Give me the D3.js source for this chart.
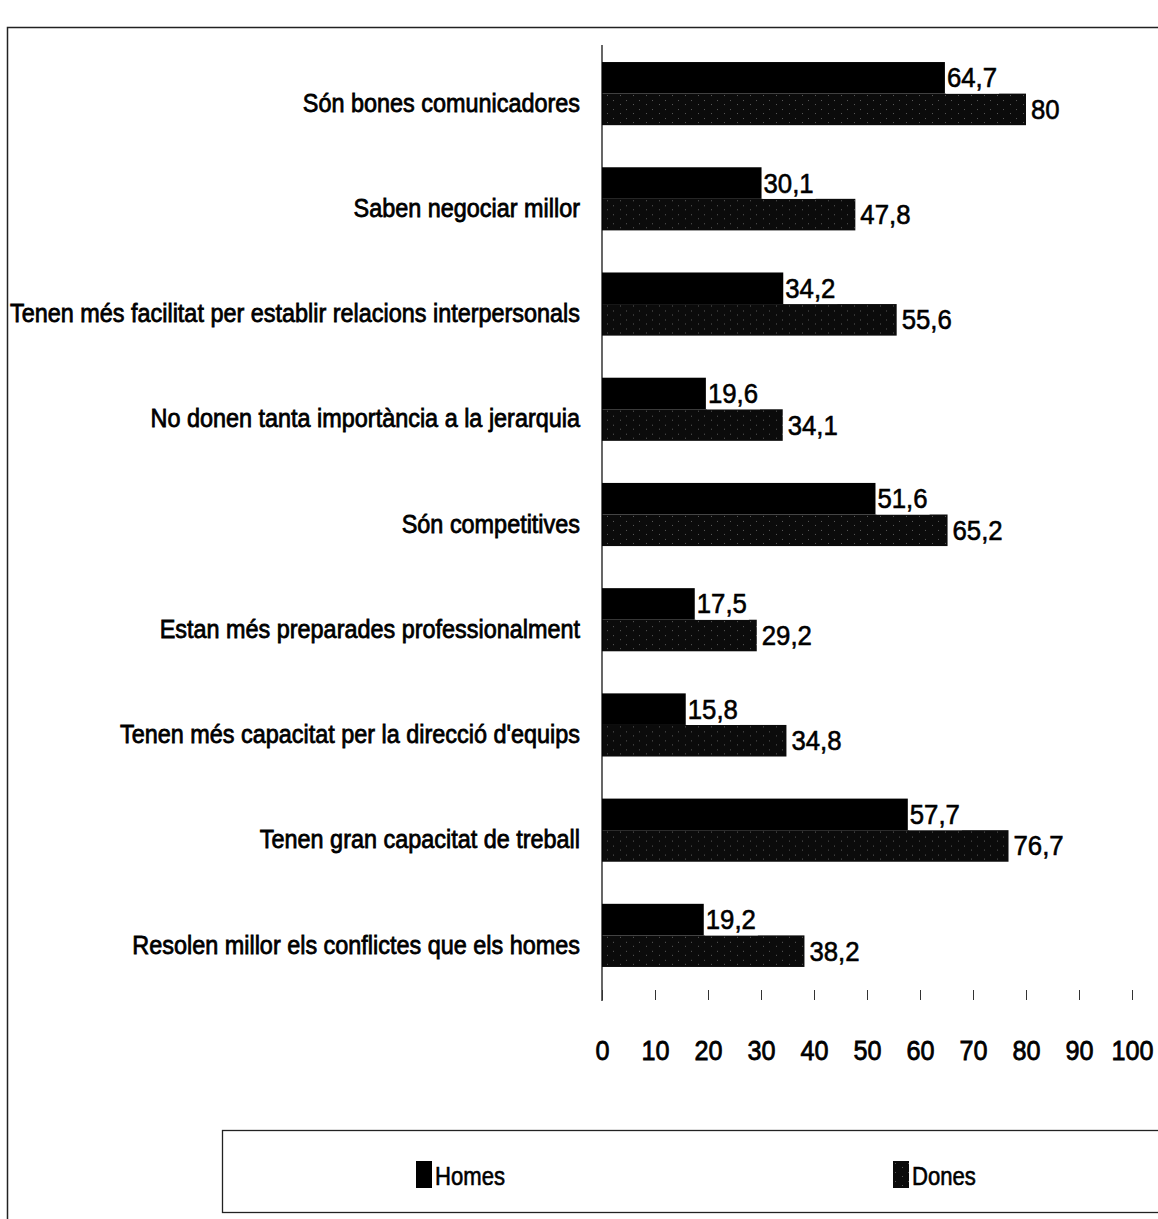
<!DOCTYPE html>
<html>
<head>
<meta charset="utf-8">
<script src="https://cdn.jsdelivr.net/npm/d3@7"></script>
<style>
  html, body { margin: 0; padding: 0; background: #fff; }
  svg { display: block; }
  .cat text { font-family: "Liberation Sans", Arial, sans-serif; font-size: 26px; fill: #000; stroke: #000; stroke-width: 0.8px; }
  .val { font-family: "Liberation Sans", Arial, sans-serif; font-size: 28px; fill: #000; stroke: #000; stroke-width: 0.6px; }
  .xaxis text { font-family: "Liberation Sans", Arial, sans-serif; font-size: 28px; fill: #000; stroke: #000; stroke-width: 0.8px; }
  .legend text { font-family: "Liberation Sans", Arial, sans-serif; font-size: 26px; fill: #000; stroke: #000; stroke-width: 0.6px; }
</style>
</head>
<body>
<svg id="chart" width="1158" height="1219"></svg>
<script>
// Opinions about women as managers, % of respondents by sex
const categories = [
  "Són bones comunicadores",
  "Saben negociar millor",
  "Tenen més facilitat per establir relacions interpersonals",
  "No donen tanta importància a la jerarquia",
  "Són competitives",
  "Estan més preparades professionalment",
  "Tenen més capacitat per la direcció d'equips",
  "Tenen gran capacitat de treball",
  "Resolen millor els conflictes que els homes"
];
const homes = [64.7, 30.1, 34.2, 19.6, 51.6, 17.5, 15.8, 57.7, 19.2];
const dones = [80, 47.8, 55.6, 34.1, 65.2, 29.2, 34.8, 76.7, 38.2];
const seriesNames = ["Homes", "Dones"];
const tickValues = [0, 10, 20, 30, 40, 50, 60, 70, 80, 90, 100];

const fmt = v => String(v).replace(".", ",");

const svg = d3.select("#chart");

// dark speckled fill for the second series
const defs = svg.append("defs");
const pat = defs.append("pattern")
  .attr("id", "grain").attr("patternUnits", "userSpaceOnUse")
  .attr("width", 13).attr("height", 9);
pat.append("rect").attr("width", 13).attr("height", 9).attr("fill", "#0b0b0b");
[[2, 2], [9, 6]].forEach(([px, py]) =>
  pat.append("rect").attr("x", px).attr("y", py).attr("width", 1).attr("height", 1).attr("fill", "#5a5a5a"));

const fills = { Homes: "#000", Dones: "url(#grain)" };

// outer frame
svg.append("rect")
  .attr("x", 7.5).attr("y", 27.5).attr("width", 1200).attr("height", 1250)
  .attr("fill", "none").attr("stroke", "#222").attr("stroke-width", 1.5);

const x = d3.scaleLinear().domain([0, 100]).range([602, 1132]);
const y = d3.scaleBand().domain(categories).range([41, 988])
  .paddingInner(0.4).paddingOuter(0.2);
const ySub = d3.scaleBand().domain(seriesNames).range([0, y.bandwidth()]);

const rows = categories.map((c, i) => ({ cat: c, Homes: homes[i], Dones: dones[i] }));

// bars
const g = svg.append("g");
const groups = g.selectAll("g.row").data(rows).join("g")
  .attr("class", "row")
  .attr("transform", d => `translate(0,${y(d.cat)})`);

groups.selectAll("rect.bar")
  .data(d => seriesNames.map(s => ({ s, v: d[s] })))
  .join("rect")
  .attr("class", "bar")
  .attr("x", x(0))
  .attr("y", d => ySub(d.s))
  .attr("width", d => x(d.v) - x(0))
  .attr("height", ySub.bandwidth())
  .attr("fill", d => fills[d.s]);

// value labels
groups.each(function (d) {
  const row = d3.select(this);
  seriesNames.forEach(s => {
    const t = row.append("text")
      .attr("class", "val")
      .attr("x", x(d[s]) + (s === "Homes" ? 2 : 5))
      .attr("y", ySub(s) + ySub.bandwidth() / 2)
      .attr("dy", "0.34em")
      .text(fmt(d[s]));
    const w = t.node().getComputedTextLength();
    t.attr("textLength", w * 0.92).attr("lengthAdjust", "spacingAndGlyphs");
    if (s === "Homes") {
      const bb = t.node().getBBox();
      row.insert("rect", "text")
        .attr("x", bb.x - 1).attr("y", ySub(s))
        .attr("width", bb.width + 3).attr("height", ySub.bandwidth())
        .attr("fill", "#fff");
    }
  });
});

// category axis
const yAxis = svg.append("g").attr("class", "cat")
  .attr("transform", `translate(${x(0)},0)`)
  .call(d3.axisLeft(y).tickSize(0).tickPadding(22));
yAxis.select(".domain").remove();
yAxis.selectAll("text").attr("dy", "0.7em");
// condense the labels horizontally
const widths = yAxis.selectAll("text").nodes().map(n => n.getComputedTextLength());
const k = 570 / d3.max(widths);
yAxis.selectAll("text").each(function (d, i) {
  d3.select(this).attr("textLength", widths[i] * k).attr("lengthAdjust", "spacingAndGlyphs");
});

svg.append("line")
  .attr("x1", x(0)).attr("x2", x(0)).attr("y1", 45).attr("y2", 1001)
  .attr("stroke", "#000").attr("stroke-width", 1.2);

// value axis
const xAxis = svg.append("g").attr("class", "xaxis")
  .attr("transform", "translate(0,1000)")
  .call(d3.axisBottom(x).tickValues(tickValues).tickFormat(d3.format("d"))
    .tickSizeInner(-10).tickSizeOuter(0).tickPadding(40));
xAxis.select(".domain").remove();
xAxis.selectAll(".tick line").attr("stroke", "#333").attr("stroke-width", 1);
xAxis.selectAll(".tick text").each(function () {
  const w = this.getComputedTextLength();
  d3.select(this).attr("textLength", w * 0.9).attr("lengthAdjust", "spacingAndGlyphs");
});

// legend
const lg = svg.append("g").attr("class", "legend");
lg.append("rect")
  .attr("x", 222.5).attr("y", 1130.5).attr("width", 1000).attr("height", 82)
  .attr("fill", "none").attr("stroke", "#222").attr("stroke-width", 1.3);
const legendX = d3.scalePoint().domain(seriesNames).range([416, 893]);
const items = lg.selectAll("g.item").data(seriesNames).join("g")
  .attr("class", "item")
  .attr("transform", s => `translate(${legendX(s)},1161)`);
items.append("rect").attr("width", 16).attr("height", 27).attr("fill", s => fills[s]);
items.append("text").attr("x", 19).attr("y", 15).attr("dy", "0.36em")
  .text(s => s)
  .each(function () {
    const w = this.getComputedTextLength();
    d3.select(this).attr("textLength", w * 0.85).attr("lengthAdjust", "spacingAndGlyphs");
  });
</script>
</body>
</html>
